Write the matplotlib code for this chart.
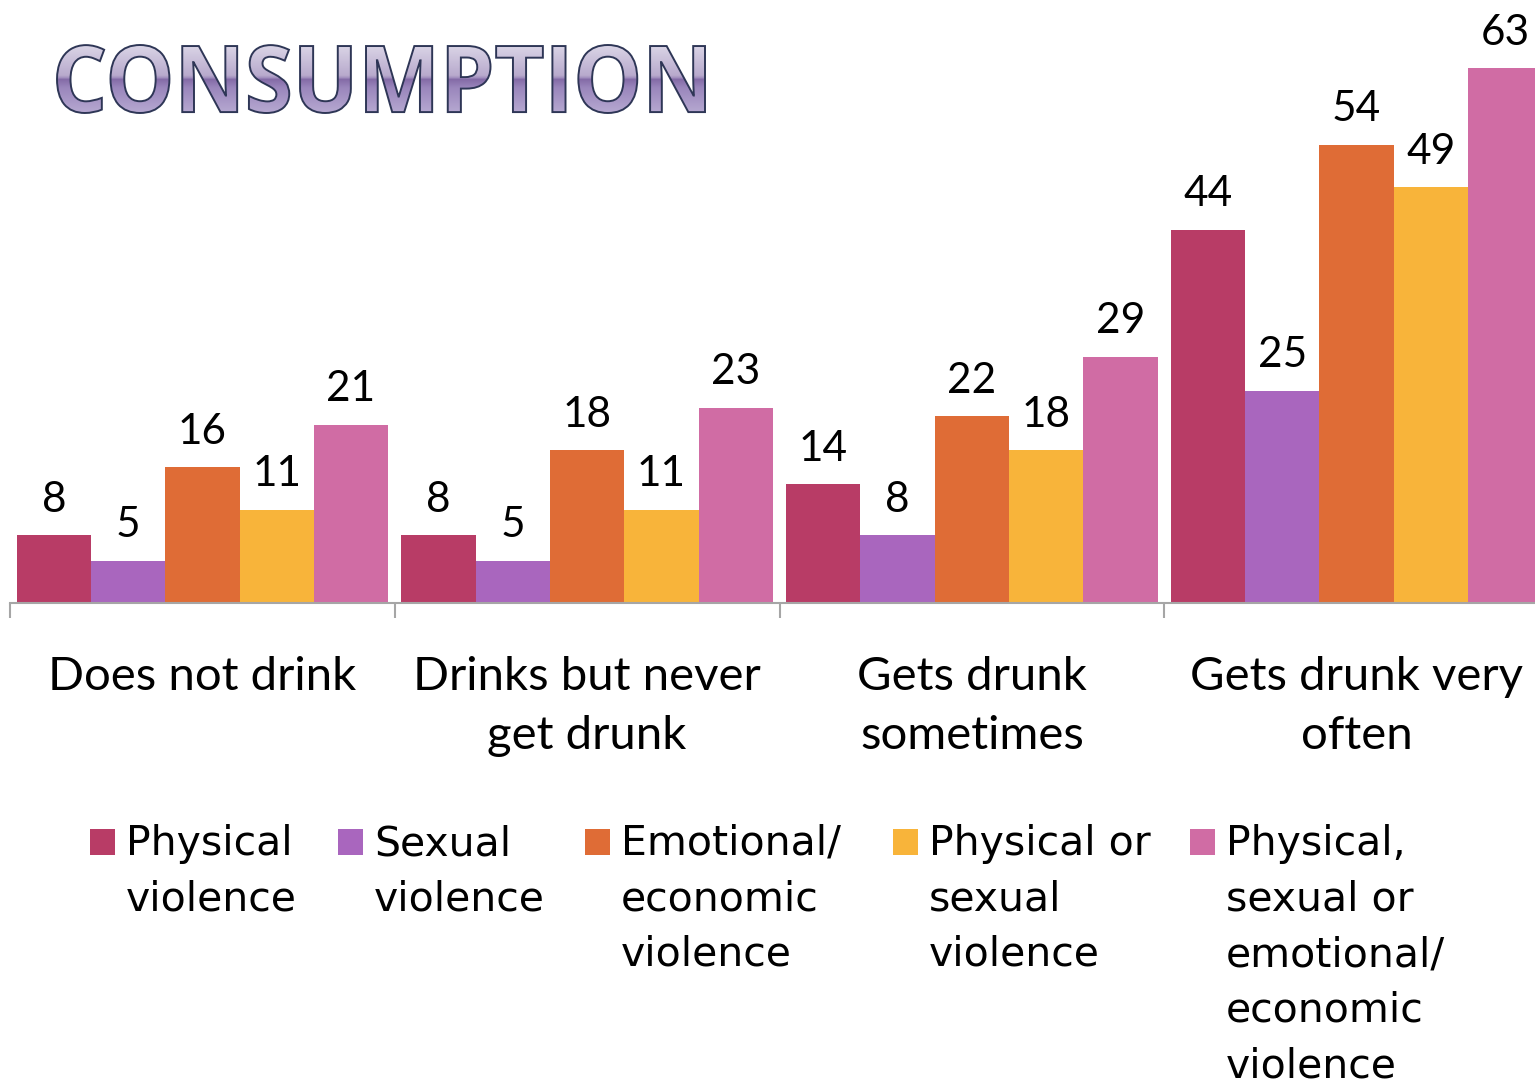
import numpy as np
import matplotlib
matplotlib.use("Agg")
import matplotlib.pyplot as plt
from matplotlib.textpath import TextPath
from matplotlib.font_manager import FontProperties
from matplotlib.patches import PathPatch, Rectangle
from matplotlib.transforms import Affine2D
from matplotlib.colors import LinearSegmentedColormap

# data
categories = ["Does not drink", "Drinks but never\nget drunk",
              "Gets drunk\nsometimes", "Gets drunk very\noften"]
series = ["Physical violence", "Sexual violence", "Emotional/ economic violence",
          "Physical or sexual violence",
          "Physical, sexual or emotional/ economic violence"]
physical = [8, 8, 14, 44]
sexual = [5, 5, 8, 25]
emotional = [16, 18, 22, 54]
phys_or_sex = [11, 11, 18, 49]
any_violence = [21, 23, 29, 63]
values = [physical, sexual, emotional, phys_or_sex, any_violence]
legend_lines = [["Physical", "violence"],
                ["Sexual", "violence"],
                ["Emotional/", "economic", "violence"],
                ["Physical or", "sexual", "violence"],
                ["Physical,", "sexual or", "emotional/", "economic", "violence"]]
colors = ["#B83C66", "#A966BE", "#DF6C36", "#F8B43A", "#D06CA4"]

W, H = 1535, 1081
plt.rcParams["font.family"] = ["Lato", "DejaVu Sans"]
fig = plt.figure(figsize=(W / 100, H / 100), dpi=100)

# main bar axes, positioned in pixel terms
ax = fig.add_axes([10 / W, (H - 603) / H, (1549 - 10) / W, 594 / H])
x = np.arange(len(categories))
bw = 0.193
for k, (vals, col) in enumerate(zip(values, colors)):
    pos = x + (k - 2) * bw
    ax.bar(pos, vals, width=bw, color=col, zorder=2)
    for px, v in zip(pos, vals):
        ax.annotate(str(v), (px, v), xytext=(0, 17), textcoords="offset points",
                    ha="center", va="baseline", fontsize=30.5, color="black")

ax.set_xlim(-0.5, 3.5)
ax.set_ylim(0, 70)
for s in ["top", "right", "left"]:
    ax.spines[s].set_visible(False)
ax.spines["bottom"].set_color("#A6A6A6")
ax.spines["bottom"].set_linewidth(1.5)
ax.set_yticks([])
ax.set_xticks(x)
ax.set_xticklabels(categories, fontsize=34, linespacing=1.52)
ax.tick_params(axis="x", which="major", length=0, pad=38)
ax.set_xticks(np.arange(-0.5, 4.0, 1.0), minor=True)
ax.tick_params(axis="x", which="minor", length=11, width=1.5, color="#A6A6A6",
               direction="out")

# overlay axes in pixel coordinates for title and legend
tax = fig.add_axes([0, 0, 1, 1])
tax.set_xlim(0, W)
tax.set_ylim(H, 0)
tax.axis("off")

# title with a glossy purple gradient fill
tp = TextPath((0, 0), "CONSUMPTION", size=100,
              prop=FontProperties(family="Open Sans", weight="bold"))
bb = tp.get_extents()
x0, y0, x1, y1 = 57, 45, 705, 113
tr = Affine2D().translate(-bb.x0, -bb.y0).scale((x1 - x0) / bb.width,
                                                -(y1 - y0) / bb.height).translate(x0, y1)
tpath = tr.transform_path(tp)
grad_cmap = LinearSegmentedColormap.from_list(
    "title", [(0.0, "#DDD8E8"), (0.45, "#B8AACD"), (0.49, "#9C88BA"),
              (0.5, "#836AA6"), (0.62, "#9A86BC"), (1.0, "#B9ACD3")])
grad = np.linspace(0, 1, 256).reshape(-1, 1)
im = tax.imshow(grad, extent=(x0 - 2, x1 + 2, y1 + 2, y0 - 2), cmap=grad_cmap,
                aspect="auto", zorder=3)
outline = PathPatch(tpath, facecolor="none", edgecolor="#2E3656", lw=1.4, zorder=4)
tax.add_patch(outline)
im.set_clip_path(outline)
tax.set_xlim(0, W)
tax.set_ylim(H, 0)

# legend drawn by hand (wider face, as in the reference)
mark_x = [90, 338, 585, 893, 1190]
for mx, col, lines in zip(mark_x, colors, legend_lines):
    tax.add_patch(Rectangle((mx, 829), 25, 26, facecolor=col, edgecolor="none"))
    for j, line in enumerate(lines):
        tax.text(mx + 36, 855 + 55.5 * j, line, fontsize=29.5, ha="left",
                 va="baseline", color="black", family="DejaVu Sans")

fig.savefig("out.png", dpi=100)
